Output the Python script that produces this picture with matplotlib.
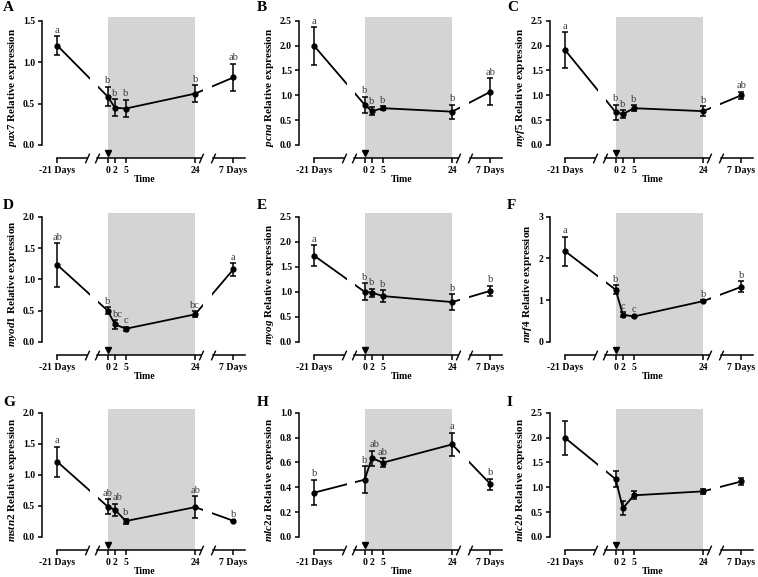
import numpy as np
import matplotlib
matplotlib.use('Agg')
import matplotlib.pyplot as plt

plt.rcParams['font.family'] = ['Liberation Serif', 'DejaVu Serif']
plt.rcParams['mathtext.fontset'] = 'custom'
plt.rcParams['mathtext.it'] = 'Liberation Serif:italic:bold'
plt.rcParams['mathtext.rm'] = 'Liberation Serif:bold'

# time points (broken axis: -21 Days | 0-24 h | 7 Days)
time_labels = ['-21 Days', '0', '2', '5', '24', '7 Days']
time_pos = [-13.8, 0, 2, 5, 24, 34.5]

# mean and SEM
pax7_mean = [1.20, 0.585, 0.45, 0.44, 0.62, 0.815]
pax7_sem = [0.11, 0.12, 0.105, 0.105, 0.10, 0.165]
pax7_sig = ['a', 'b', 'b', 'b', 'b', 'ab']

pcna_mean = [1.99, 0.81, 0.68, 0.74, 0.67, 1.07]
pcna_sem = [0.38, 0.165, 0.085, 0.04, 0.14, 0.27]
pcna_sig = ['a', 'b', 'b', 'b', 'b', 'ab']

myf5_mean = [1.905, 0.66, 0.62, 0.74, 0.68, 1.0]
myf5_sem = [0.36, 0.15, 0.085, 0.065, 0.10, 0.075]
myf5_sig = ['a', 'b', 'b', 'b', 'b', 'ab']

myod1_mean = [1.23, 0.50, 0.28, 0.21, 0.44, 1.16]
myod1_sem = [0.345, 0.055, 0.07, 0.03, 0.05, 0.10]
myod1_sig = ['ab', 'b', 'bc', 'c', 'bc', 'a']

myog_mean = [1.72, 1.0, 0.985, 0.915, 0.795, 1.02]
myog_sem = [0.21, 0.17, 0.08, 0.12, 0.16, 0.105]
myog_sig = ['a', 'b', 'b', 'b', 'b', 'b']

mrf4_mean = [2.17, 1.25, 0.65, 0.61, 0.976, 1.32]
mrf4_sem = [0.35, 0.11, 0.06, 0.02, 0.02, 0.13]
mrf4_sig = ['a', 'b', 'c', 'c', 'b', 'b']

mstn2_mean = [1.21, 0.49, 0.437, 0.256, 0.48, 0.26]
mstn2_sem = [0.245, 0.12, 0.10, 0.04, 0.18, 0.01]
mstn2_sig = ['a', 'ab', 'ab', 'b', 'ab', 'b']

mlc2a_mean = [0.357, 0.461, 0.635, 0.598, 0.745, 0.426]
mlc2a_sem = [0.103, 0.107, 0.06, 0.036, 0.094, 0.044]
mlc2a_sig = ['b', 'b', 'ab', 'ab', 'a', 'b']

mlc2b_mean = [1.99, 1.163, 0.578, 0.838, 0.918, 1.117]
mlc2b_sem = [0.35, 0.165, 0.14, 0.08, 0.056, 0.073]
mlc2b_sig = ['', '', '', '', '', '']

panels = [
    ('A', 'pax7', pax7_mean, pax7_sem, pax7_sig, 1.5, 0.5, '%.1f'),
    ('B', 'pcna', pcna_mean, pcna_sem, pcna_sig, 2.5, 0.5, '%.1f'),
    ('C', 'myf5', myf5_mean, myf5_sem, myf5_sig, 2.5, 0.5, '%.1f'),
    ('D', 'myod1', myod1_mean, myod1_sem, myod1_sig, 2.0, 0.5, '%.1f'),
    ('E', 'myog', myog_mean, myog_sem, myog_sig, 2.5, 0.5, '%.1f'),
    ('F', 'mrf4', mrf4_mean, mrf4_sem, mrf4_sig, 3, 1, '%d'),
    ('G', 'mstn2', mstn2_mean, mstn2_sem, mstn2_sig, 2.0, 0.5, '%.1f'),
    ('H', 'mlc2a', mlc2a_mean, mlc2a_sem, mlc2a_sig, 1.0, 0.2, '%.1f'),
    ('I', 'mlc2b', mlc2b_mean, mlc2b_sem, mlc2b_sig, 2.5, 0.5, '%.1f'),
]

W, H = 758, 577
col_left = [42, 299, 550]
row_top = [17, 213, 409]
row_bot = [158, 355, 550]
ax_w = 206
letter_x = [3, 257, 507]
letter_y = [1, 199, 396]

# axis segments and breaks
segments = [(-13.8, -5.6), (-2.85, 25.7), (28.8, 37.8)]
gaps = [(-4.9, -2.7), (26.1, 28.5)]
slash = [(-0.45, -1), (0.45, 1)]

fig = plt.figure(figsize=(W / 100, H / 100), dpi=100)

for i, (letter, gene, mean, sem, sig, ymax, ystep, fmt) in enumerate(panels):
    r, c = divmod(i, 3)
    left = col_left[c] / W
    bottom = 1 - row_bot[r] / H
    height = (row_bot[r] - row_top[r]) / H
    ax = fig.add_axes([left, bottom, ax_w / W, height])

    ax.axvspan(0, 24, color='#d4d4d4', lw=0, zorder=0)
    ax.errorbar(time_pos, mean, yerr=sem, fmt='-o', color='black', ms=3.5,
                lw=1.3, elinewidth=1.1, capsize=2, capthick=1.1, zorder=3)
    for g0, g1 in gaps:
        ax.axvspan(g0, g1, color='white', lw=0, zorder=4)

    for k, (x, m, s, t) in enumerate(zip(time_pos, mean, sem, sig)):
        if t:
            dx = 2 if (k == 2 and len(t) > 1) else 0
            ax.annotate(t, (x, m + s), xytext=(dx, 1), textcoords='offset points',
                        ha='center', va='bottom', fontsize=7.5, color='#3a3a3a',
                        zorder=6)

    ax.set_xlim(-18, 38.5)
    ax.set_ylim(-0.105 * ymax, 1.03 * ymax)
    for side in ['top', 'right', 'bottom']:
        ax.spines[side].set_visible(False)
    ax.spines['left'].set_bounds(0, ymax)
    ax.spines['left'].set_linewidth(1.1)

    yt = np.arange(0, ymax + ystep / 2, ystep)
    ax.set_yticks(yt)
    ax.set_yticklabels([fmt % v for v in yt], fontweight='bold', fontsize=7)
    ax.set_xticks(time_pos)
    ax.set_xticklabels(time_labels, fontweight='bold', fontsize=7)
    ax.tick_params(axis='both', direction='out', length=3, width=1.1, pad=2)
    ax.tick_params(axis='x', length=3.5, pad=2)

    xt = ax.get_xaxis_transform()
    for s0, s1 in segments:
        ax.plot([s0, s1], [0, 0], transform=xt, color='black', lw=1.1,
                clip_on=False, zorder=5)
        for sx in (s0, s1):
            if sx not in (segments[0][0], segments[-1][1]):
                ax.plot([sx], [0], transform=xt, marker=slash, ms=7, mew=1,
                        color='black', clip_on=False, zorder=5)
    ax.plot([0], [0.035], transform=xt, marker='v', ms=4, color='black',
            clip_on=False, zorder=5)

    ax.set_xlabel('Time', fontweight='bold', fontsize=7, labelpad=0)
    ax.set_ylabel(r'$\it{%s}$ Relative expression' % gene, fontweight='bold',
                  fontsize=8, labelpad=3)

    fig.text(letter_x[c] / W, 1 - letter_y[r] / H, letter, fontsize=11,
             fontweight='bold', ha='left', va='top')

fig.savefig('out.png', dpi=100)
